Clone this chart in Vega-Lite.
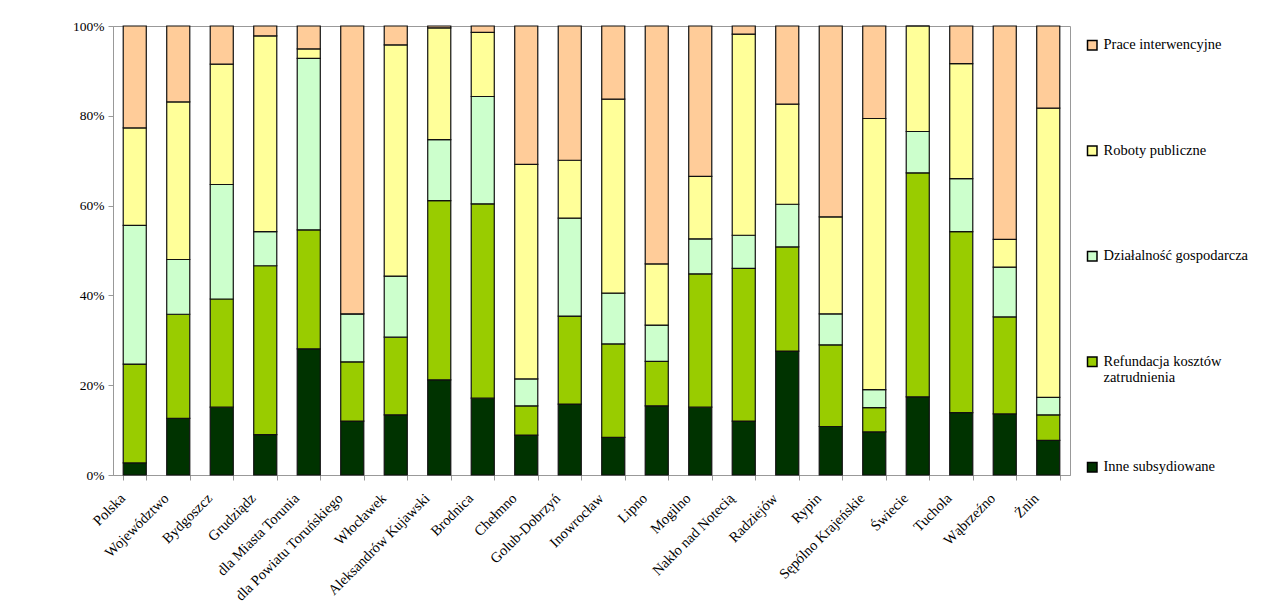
{
  "$schema": "https://vega.github.io/schema/vega-lite/v6.json",
  "autosize": {"type": "none"},
  "padding": {"left": 113, "top": 26, "right": 215, "bottom": 129},
  "width": 957,
  "height": 449,
  "background": "white",
  "config": {
    "view": {"stroke": "#999999", "strokeWidth": 1},
    "font": "Liberation Serif",
    "legend": {"labelFont": "Liberation Serif"}
  },
  "datasets": {
    "wide": [
      {"region": "Polska", "Inne subsydiowane": 2.7, "Refundacja kosztów zatrudnienia": 22.0, "Działalność gospodarcza": 30.9, "Roboty publiczne": 21.7, "Prace interwencyjne": 22.7},
      {"region": "Województwo", "Inne subsydiowane": 12.6, "Refundacja kosztów zatrudnienia": 23.2, "Działalność gospodarcza": 12.2, "Roboty publiczne": 35.1, "Prace interwencyjne": 16.9},
      {"region": "Bydgoszcz", "Inne subsydiowane": 15.1, "Refundacja kosztów zatrudnienia": 24.1, "Działalność gospodarcza": 25.5, "Roboty publiczne": 26.8, "Prace interwencyjne": 8.5},
      {"region": "Grudziądz", "Inne subsydiowane": 9.0, "Refundacja kosztów zatrudnienia": 37.6, "Działalność gospodarcza": 7.6, "Roboty publiczne": 43.6, "Prace interwencyjne": 2.2},
      {"region": "dla Miasta Torunia", "Inne subsydiowane": 28.1, "Refundacja kosztów zatrudnienia": 26.5, "Działalność gospodarcza": 38.2, "Roboty publiczne": 2.1, "Prace interwencyjne": 5.1},
      {"region": "dla Powiatu Toruńskiego", "Inne subsydiowane": 12.0, "Refundacja kosztów zatrudnienia": 13.2, "Działalność gospodarcza": 10.7, "Roboty publiczne": 0.0, "Prace interwencyjne": 64.1},
      {"region": "Włocławek", "Inne subsydiowane": 13.4, "Refundacja kosztów zatrudnienia": 17.3, "Działalność gospodarcza": 13.6, "Roboty publiczne": 51.5, "Prace interwencyjne": 4.2},
      {"region": "Aleksandrów Kujawski", "Inne subsydiowane": 21.2, "Refundacja kosztów zatrudnienia": 39.9, "Działalność gospodarcza": 13.6, "Roboty publiczne": 24.9, "Prace interwencyjne": 0.4},
      {"region": "Brodnica", "Inne subsydiowane": 17.1, "Refundacja kosztów zatrudnienia": 43.3, "Działalność gospodarcza": 23.9, "Roboty publiczne": 14.3, "Prace interwencyjne": 1.4},
      {"region": "Chełmno", "Inne subsydiowane": 8.9, "Refundacja kosztów zatrudnienia": 6.5, "Działalność gospodarcza": 6.0, "Roboty publiczne": 47.8, "Prace interwencyjne": 30.8},
      {"region": "Golub-Dobrzyń", "Inne subsydiowane": 15.8, "Refundacja kosztów zatrudnienia": 19.6, "Działalność gospodarcza": 21.8, "Roboty publiczne": 12.9, "Prace interwencyjne": 29.9},
      {"region": "Inowrocław", "Inne subsydiowane": 8.4, "Refundacja kosztów zatrudnienia": 20.8, "Działalność gospodarcza": 11.3, "Roboty publiczne": 43.2, "Prace interwencyjne": 16.3},
      {"region": "Lipno", "Inne subsydiowane": 15.4, "Refundacja kosztów zatrudnienia": 9.9, "Działalność gospodarcza": 8.1, "Roboty publiczne": 13.6, "Prace interwencyjne": 53.0},
      {"region": "Mogilno", "Inne subsydiowane": 15.1, "Refundacja kosztów zatrudnienia": 29.7, "Działalność gospodarcza": 7.8, "Roboty publiczne": 13.9, "Prace interwencyjne": 33.5},
      {"region": "Nakło nad Notecią", "Inne subsydiowane": 12.0, "Refundacja kosztów zatrudnienia": 34.0, "Działalność gospodarcza": 7.4, "Roboty publiczne": 44.8, "Prace interwencyjne": 1.8},
      {"region": "Radziejów", "Inne subsydiowane": 27.6, "Refundacja kosztów zatrudnienia": 23.2, "Działalność gospodarcza": 9.5, "Roboty publiczne": 22.3, "Prace interwencyjne": 17.4},
      {"region": "Rypin", "Inne subsydiowane": 10.8, "Refundacja kosztów zatrudnienia": 18.2, "Działalność gospodarcza": 6.9, "Roboty publiczne": 21.6, "Prace interwencyjne": 42.5},
      {"region": "Sępólno Krajeńskie", "Inne subsydiowane": 9.6, "Refundacja kosztów zatrudnienia": 5.4, "Działalność gospodarcza": 4.0, "Roboty publiczne": 60.4, "Prace interwencyjne": 20.6},
      {"region": "Świecie", "Inne subsydiowane": 17.4, "Refundacja kosztów zatrudnienia": 49.9, "Działalność gospodarcza": 9.2, "Roboty publiczne": 23.5, "Prace interwencyjne": 0.0},
      {"region": "Tuchola", "Inne subsydiowane": 13.9, "Refundacja kosztów zatrudnienia": 40.3, "Działalność gospodarcza": 11.8, "Roboty publiczne": 25.6, "Prace interwencyjne": 8.4},
      {"region": "Wąbrzeźno", "Inne subsydiowane": 13.6, "Refundacja kosztów zatrudnienia": 21.6, "Działalność gospodarcza": 11.1, "Roboty publiczne": 6.2, "Prace interwencyjne": 47.5},
      {"region": "Żnin", "Inne subsydiowane": 7.7, "Refundacja kosztów zatrudnienia": 5.7, "Działalność gospodarcza": 3.9, "Roboty publiczne": 64.4, "Prace interwencyjne": 18.3}
    ],
    "seriesOrder": [
      {"series": "Inne subsydiowane", "rank": 1},
      {"series": "Refundacja kosztów zatrudnienia", "rank": 2},
      {"series": "Działalność gospodarcza", "rank": 3},
      {"series": "Roboty publiczne", "rank": 4},
      {"series": "Prace interwencyjne", "rank": 5}
    ]
  },
  "data": {"name": "wide"},
  "transform": [
    {"fold": ["Inne subsydiowane", "Refundacja kosztów zatrudnienia", "Działalność gospodarcza", "Roboty publiczne", "Prace interwencyjne"], "as": ["series", "value"]},
    {"lookup": "series", "from": {"data": {"name": "seriesOrder"}, "key": "series", "fields": ["rank"]}}
  ],
  "mark": {"type": "bar", "stroke": "#111111", "strokeWidth": 1.2},
  "encoding": {
    "x": {
      "field": "region", "type": "nominal", "sort": null,
      "scale": {"paddingInner": 0.47, "paddingOuter": 0.235},
      "axis": {
        "title": null, "labelAngle": -45, "labelAlign": "right", "labelBaseline": "top",
        "labelFont": "Liberation Serif", "labelFontSize": 14.5, "labelColor": "#000000",
        "tickBand": "extent", "tickColor": "#999999", "tickSize": 5,
        "domainColor": "#999999", "labelPadding": 11, "labelOffset": -17
      }
    },
    "y": {
      "field": "value", "type": "quantitative", "stack": "normalize",
      "scale": {"domain": [0, 1]},
      "axis": {
        "title": null, "format": ".0%", "values": [0, 0.2, 0.4, 0.6, 0.8, 1],
        "grid": false, "labelFont": "Liberation Serif", "labelFontSize": 13.5, "labelColor": "#000000",
        "tickColor": "#999999", "tickSize": 5, "domainColor": "#999999", "labelPadding": 4
      }
    },
    "order": {"field": "rank", "type": "quantitative", "sort": "ascending"},
    "color": {
      "field": "series", "type": "nominal",
      "scale": {
        "domain": ["Prace interwencyjne", "Roboty publiczne", "Działalność gospodarcza", "Refundacja kosztów zatrudnienia", "Inne subsydiowane"],
        "range": ["#FFCC99", "#FFFF99", "#CCFFCC", "#99CC00", "#003300"]
      },
      "legend": {
        "title": null, "orient": "none", "legendX": 972, "legendY": 12,
        "symbolType": "square", "symbolSize": 90, "symbolStrokeColor": "#000000", "symbolStrokeWidth": 1.5,
        "labelFont": "Liberation Serif", "labelFontSize": 14.5, "labelColor": "#000000", "labelLimit": 250,
        "labelExpr": "datum.label == 'Refundacja kosztów zatrudnienia' ? ['Refundacja kosztów', 'zatrudnienia'] : [datum.label, '']",
        "rowPadding": 73.5
      }
    }
  }
}
